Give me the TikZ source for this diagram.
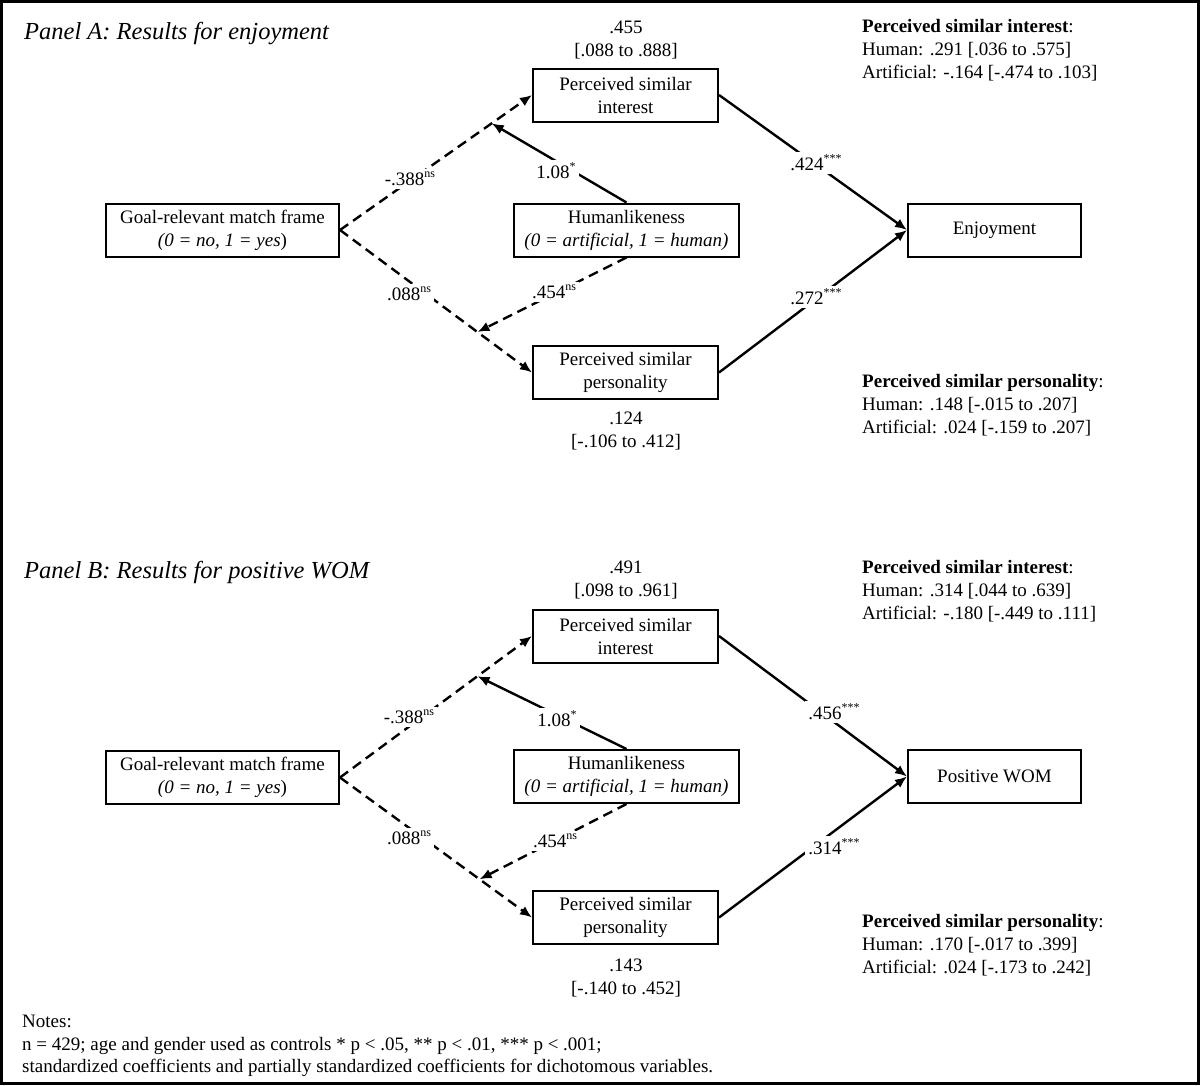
\documentclass[tikz,border=0pt]{standalone}
\usepackage{fontspec}
\setmainfont{Liberation Serif}
\usetikzlibrary{arrows.meta,calc}
\newcommand\sups[1]{\raisebox{0.42em}{\fontsize{12}{12}\selectfont #1}}
\begin{document}
\begin{tikzpicture}[x=1pt,y=-1pt,
  every node/.style={font=\fontsize{19}{23}\selectfont, inner sep=0pt},
  box/.style={draw, line width=2pt, align=center, minimum height=53pt},
  conn/.style={line width=2.4pt, -{Latex[length=12pt,width=10pt]}},
  dconn/.style={conn, dash pattern=on 10pt off 6pt},
  lbl/.style={fill=white, inner sep=3pt},
  txt/.style={anchor=base west},
  ctxt/.style={anchor=base},
  ttl/.style={anchor=base west, font=\fontsize{24.5}{28}\selectfont\itshape}]
\useasboundingbox (0,0) rectangle (1200,1085);
\fill[white] (0,0) rectangle (1200,1085);
\draw[line width=3pt] (1.5,1.5) rectangle (1198.5,1083.5);

% ---------------- Panel A ----------------
\node[ttl] (titleA) at (24,39) {Panel A: Results for enjoyment};
\node[box, minimum width=233pt] (goalA) at (222.5,230) {Goal-relevant match frame\\\textit{(0 = no, 1 = yes})};
\node[box, minimum width=225pt] (humA) at (626.5,230) {Humanlikeness\\\textit{(0 = artificial, 1 = human)}};
\node[box, minimum width=173pt] (enjA) at (994.5,230) {Enjoyment};
\node[box, minimum width=185pt] (psiA) at (625.5,95) {Perceived similar\\interest};
\node[box, minimum width=185pt] (pspA) at (625.5,372.5) {Perceived similar\\personality};

\coordinate (mA1) at ($(goalA.east)!0.79!(psiA.west)$);
\coordinate (mA2) at ($(goalA.east)!0.716!(pspA.west)$);

\draw[dconn] (goalA.east) -- (psiA.west);
\draw[dconn] (goalA.east) -- (pspA.west);
\draw[conn] (humA.north) -- (mA1);
\draw[dconn] (humA.south) -- (mA2);
\draw[conn] (psiA.east) -- (enjA.west);
\draw[conn] (pspA.east) -- (enjA.west);

\node[lbl] (lA1) at (410,179) {-.388\sups{ns}};
\node[lbl] (lA2) at (409,294) {.088\sups{ns}};
\node[lbl] (lA3) at (556,171) {1.08\sups{*}};
\node[lbl] (lA4) at (554,292) {.454\sups{ns}};
\node[lbl] (lA5) at (816,163) {.424\sups{***}};
\node[lbl] (lA6) at (816,297) {.272\sups{***}};

\node[ctxt] (eA1) at (626,33) {.455};
\node[ctxt] (eA2) at (626,56) {[.088 to .888]};
\node[ctxt] (eA3) at (626,424) {.124};
\node[ctxt] (eA4) at (626,447) {[-.106 to .412]};

\node[txt] (rA1) at (862,32) {\textbf{Perceived similar interest}:};
\node[txt] (rA2) at (862,55) {Human: .291 [.036 to .575]};
\node[txt] (rA3) at (862,78) {Artificial: -.164 [-.474 to .103]};
\node[txt] (rA4) at (862,387) {\textbf{Perceived similar personality}:};
\node[txt] (rA5) at (862,410) {Human: .148 [-.015 to .207]};
\node[txt] (rA6) at (862,433) {Artificial: .024 [-.159 to .207]};

% ---------------- Panel B ----------------
\node[ttl] (titleB) at (24,578) {Panel B: Results for positive WOM};
\node[box, minimum width=233pt] (goalB) at (222.5,777.5) {Goal-relevant match frame\\\textit{(0 = no, 1 = yes})};
\node[box, minimum width=225pt] (humB) at (626.5,776.5) {Humanlikeness\\\textit{(0 = artificial, 1 = human)}};
\node[box, minimum width=173pt] (womB) at (994.5,776.5) {Positive WOM};
\node[box, minimum width=185pt] (psiB) at (625.5,636) {Perceived similar\\interest};
\node[box, minimum width=185pt] (pspB) at (625.5,917.5) {Perceived similar\\personality};

\coordinate (mB1) at ($(goalB.east)!0.716!(psiB.west)$);
\coordinate (mB2) at ($(goalB.east)!0.727!(pspB.west)$);

\draw[dconn] (goalB.east) -- (psiB.west);
\draw[dconn] (goalB.east) -- (pspB.west);
\draw[conn] (humB.north) -- (mB1);
\draw[dconn] (humB.south) -- (mB2);
\draw[conn] (psiB.east) -- (womB.west);
\draw[conn] (pspB.east) -- (womB.west);

\node[lbl] (lB1) at (409,717) {-.388\sups{ns}};
\node[lbl] (lB2) at (409,838) {.088\sups{ns}};
\node[lbl] (lB3) at (557,719) {1.08\sups{*}};
\node[lbl] (lB4) at (555,841) {.454\sups{ns}};
\node[lbl] (lB5) at (834,712) {.456\sups{***}};
\node[lbl] (lB6) at (834,847) {.314\sups{***}};

\node[ctxt] (eB1) at (626,573) {.491};
\node[ctxt] (eB2) at (626,596) {[.098 to .961]};
\node[ctxt] (eB3) at (626,971) {.143};
\node[ctxt] (eB4) at (626,994) {[-.140 to .452]};

\node[txt] (rB1) at (862,573) {\textbf{Perceived similar interest}:};
\node[txt] (rB2) at (862,596) {Human: .314 [.044 to .639]};
\node[txt] (rB3) at (862,619) {Artificial: -.180 [-.449 to .111]};
\node[txt] (rB4) at (862,927) {\textbf{Perceived similar personality}:};
\node[txt] (rB5) at (862,950) {Human: .170 [-.017 to .399]};
\node[txt] (rB6) at (862,973) {Artificial: .024 [-.173 to .242]};

% ---------------- Notes ----------------
\node[txt] (n1) at (22,1027) {Notes:};
\node[txt] (n2) at (22,1050) {n = 429; age and gender used as controls * p < .05, ** p < .01, *** p < .001;};
\node[txt] (n3) at (22,1072) {standardized coefficients and partially standardized coefficients for dichotomous variables.};
\end{tikzpicture}
\end{document}
